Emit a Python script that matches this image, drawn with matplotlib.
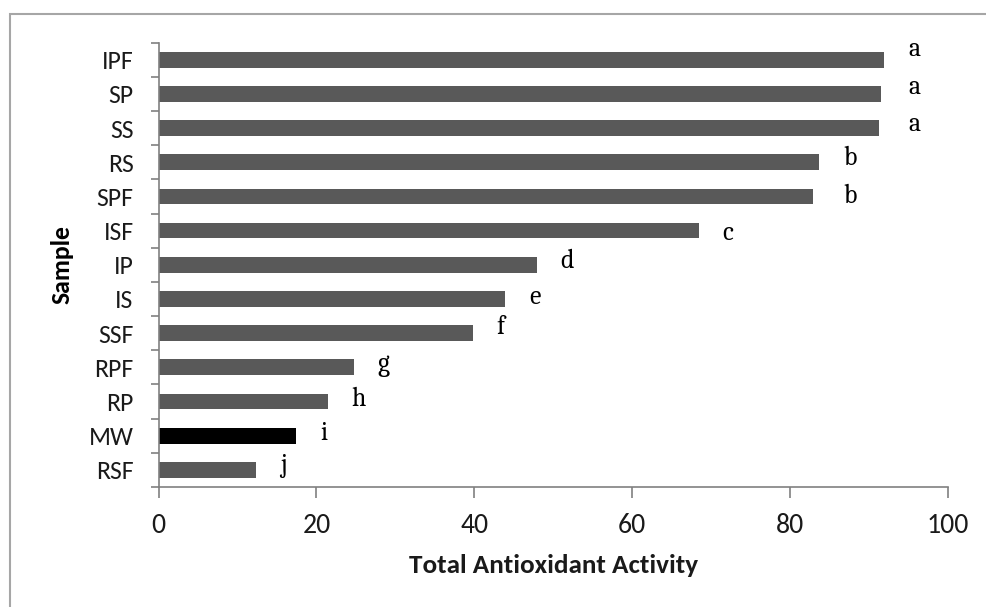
import matplotlib
matplotlib.use("Agg")
import matplotlib.pyplot as plt
from matplotlib.patches import Rectangle
from matplotlib.ticker import FixedLocator

samples = ["IPF", "SP", "SS", "RS", "SPF", "ISF", "IP", "IS", "SSF", "RPF", "RP", "MW", "RSF"]
activity = [91.9, 91.5, 91.2, 83.7, 82.9, 68.4, 47.9, 43.9, 39.8, 24.7, 21.4, 17.4, 12.4]
letters = ["a", "a", "a", "b", "b", "c", "d", "e", "f", "g", "h", "i", "j"]
x_ticks = [0, 20, 40, 60, 80, 100]

bar_colors = ["#000000" if s == "MW" else "#595959" for s in samples]
letter_dy_px = [-4, 0, 3, 3, 7, 9, 3, 5, 1, 4, 4, 4, 2]

sans = ["Carlito", "Lato", "DejaVu Sans"]
serif = ["Caladea", "Liberation Serif", "DejaVu Serif"]

W, H = 987, 607
fig = plt.figure(figsize=(W / 100, H / 100), dpi=100)
ax = fig.add_axes([158.6 / W, 1 - 487 / H, (948 - 158.6) / W, (487 - 42.6) / H])

ypos = list(range(len(samples)))
ax.barh(ypos, activity, height=0.46, color=bar_colors, edgecolor="none", zorder=2)
ax.set_xlim(0, 100)
ax.set_ylim(len(samples) - 0.5, -0.5)

ax.set_yticks(ypos)
ax.set_yticklabels(samples, family=sans, fontsize=18.5, color="#1a1a1a")
ax.yaxis.set_minor_locator(FixedLocator([i - 0.5 for i in range(len(samples) + 1)]))
ax.tick_params(axis="y", which="major", length=0, pad=18)
ax.tick_params(axis="y", which="minor", length=6, color="#808080", width=1.2, direction="out")

ax.set_xticks(x_ticks)
ax.set_xticklabels([str(t) for t in x_ticks], family=sans, fontsize=20, color="#1a1a1a")
ax.tick_params(axis="x", length=8, color="#808080", width=1.2, direction="out", pad=11)

for side in ["top", "right"]:
    ax.spines[side].set_visible(False)
for side in ["left", "bottom"]:
    ax.spines[side].set_color("#808080")
    ax.spines[side].set_linewidth(1.2)

ax.set_xlabel("Total Antioxidant Activity", family=sans, fontsize=19.5,
              fontweight="bold", labelpad=11, color="#1a1a1a")
ax.set_ylabel("Sample", family=sans, fontsize=18.5, fontweight="bold",
              labelpad=11, color="#000000")

# significance letters
group_max = {}
for v, l in zip(activity, letters):
    group_max[l] = max(group_max.get(l, 0), v)
for i, (l, dy) in enumerate(zip(letters, letter_dy_px)):
    ax.annotate(l, xy=(group_max[l], i), xytext=(24, -dy), textcoords="offset pixels",
                ha="left", va="baseline", family=serif,
                fontsize=18.5, color="#000000", annotation_clip=False)

# outer frame
fig.patches.append(Rectangle((10 / W, -0.05), 1.2, 1 - 14 / H + 0.05, transform=fig.transFigure,
                             fill=False, edgecolor="#a6a6a6", linewidth=1.5))

fig.savefig("out.png", dpi=100)
